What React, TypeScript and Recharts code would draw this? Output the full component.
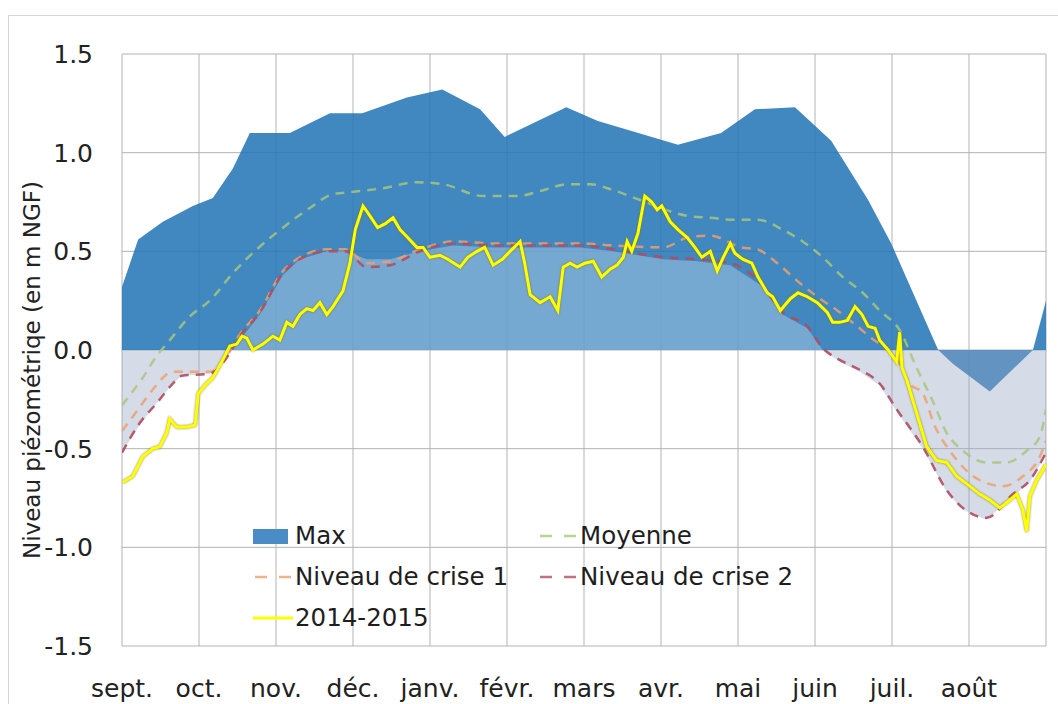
import React from 'react';
import { ComposedChart, Area, Line, XAxis, YAxis, CartesianGrid, Legend } from 'recharts';

const monthLabels = ['sept.', 'oct.', 'nov.', 'déc.', 'janv.', 'févr.', 'mars', 'avr.', 'mai', 'juin', 'juil.', 'août'];
const monthTicks = [0, 1, 2, 3, 4, 5, 6, 7, 8, 9, 10, 11, 12];
const yTicks = [-1.5, -1, -0.5, 0, 0.5, 1, 1.5];
const yAxisTitle = 'Niveau piézométriqe (en m NGF)';

// Max (area)
const maxMonths = [0, 0.21, 0.53, 0.92, 1.18, 1.44, 1.66, 2.18, 2.70, 3.12, 3.70, 4.16, 4.65, 4.97, 5.77, 6.18, 7.22, 7.78, 8.22, 8.74, 9.21, 9.69, 9.99, 10.60, 10.79, 11.27, 11.83, 12];
const maxValues = [0.32, 0.56, 0.65, 0.73, 0.77, 0.92, 1.10, 1.10, 1.20, 1.20, 1.28, 1.32, 1.22, 1.08, 1.23, 1.16, 1.04, 1.10, 1.22, 1.23, 1.06, 0.76, 0.54, 0.00, -0.07, -0.21, 0.00, 0.25];

// Min (light area, not in legend)
const minMonths = [0, 0.23, 0.45, 0.66, 0.78, 1.14, 1.34, 1.53, 1.79, 2.09, 2.31, 2.66, 2.90, 3.18, 3.48, 3.87, 4.30, 4.82, 5.26, 5.95, 6.38, 7.03, 7.47, 7.90, 8.29, 8.58, 8.90, 9.10, 9.32, 9.58, 9.84, 10.06, 10.40, 10.71, 10.92, 11.23, 11.57, 11.79, 12];
const minValues = [-0.52, -0.38, -0.27, -0.17, -0.13, -0.12, -0.05, 0.05, 0.18, 0.38, 0.46, 0.50, 0.50, 0.46, 0.46, 0.50, 0.53, 0.52, 0.52, 0.52, 0.50, 0.46, 0.45, 0.43, 0.33, 0.18, 0.11, 0.00, -0.06, -0.11, -0.18, -0.31, -0.50, -0.72, -0.81, -0.86, -0.74, -0.67, -0.53];

// Moyenne
const moyMonths = [0, 0.27, 0.45, 0.60, 0.88, 1.14, 1.44, 1.75, 2.09, 2.44, 2.74, 2.96, 3.39, 3.83, 4.17, 4.69, 5.13, 5.47, 5.78, 6.08, 6.38, 6.73, 7.34, 7.64, 7.94, 8.25, 8.58, 8.84, 9.10, 9.36, 9.62, 9.84, 10.10, 10.32, 10.53, 10.71, 10.92, 11.23, 11.49, 11.75, 11.92, 12];
const moyValues = [-0.28, -0.14, -0.03, 0.04, 0.17, 0.25, 0.39, 0.51, 0.62, 0.72, 0.79, 0.80, 0.82, 0.85, 0.84, 0.78, 0.78, 0.81, 0.84, 0.84, 0.81, 0.76, 0.68, 0.67, 0.66, 0.66, 0.61, 0.55, 0.47, 0.37, 0.29, 0.20, 0.10, -0.09, -0.26, -0.42, -0.51, -0.57, -0.57, -0.51, -0.44, -0.30];

// Niveau de crise 1
const crise1Months = [0, 0.23, 0.40, 0.66, 0.84, 1.14, 1.34, 1.53, 1.79, 2.09, 2.31, 2.66, 2.90, 3.18, 3.48, 3.87, 4.30, 4.82, 5.26, 5.95, 6.38, 7.03, 7.35, 7.64, 8.04, 8.25, 8.51, 8.77, 9.03, 9.29, 9.70, 10.10, 10.23, 10.40, 10.55, 10.75, 11.14, 11.44, 11.70, 11.92, 12];
const crise1Values = [-0.41, -0.29, -0.20, -0.11, -0.11, -0.11, -0.04, 0.08, 0.20, 0.40, 0.47, 0.51, 0.51, 0.44, 0.45, 0.51, 0.55, 0.54, 0.54, 0.54, 0.53, 0.52, 0.57, 0.58, 0.52, 0.51, 0.44, 0.35, 0.27, 0.20, 0.07, -0.07, -0.17, -0.22, -0.38, -0.51, -0.66, -0.69, -0.64, -0.54, -0.46];

// Niveau de crise 2
const crise2Months = [0, 0.23, 0.45, 0.66, 0.78, 1.14, 1.34, 1.53, 1.79, 2.09, 2.31, 2.66, 2.90, 3.18, 3.48, 3.87, 4.30, 4.82, 5.26, 5.95, 6.38, 7.03, 7.47, 7.90, 8.29, 8.58, 8.90, 9.10, 9.32, 9.58, 9.84, 10.06, 10.40, 10.71, 10.92, 11.23, 11.57, 11.79, 12];
const crise2Values = [-0.52, -0.37, -0.27, -0.17, -0.13, -0.12, -0.05, 0.07, 0.19, 0.39, 0.46, 0.50, 0.50, 0.42, 0.43, 0.50, 0.54, 0.53, 0.53, 0.53, 0.51, 0.47, 0.46, 0.44, 0.34, 0.19, 0.12, 0.01, -0.05, -0.10, -0.17, -0.30, -0.49, -0.71, -0.80, -0.85, -0.73, -0.66, -0.52];

// 2014-2015
const yearMonths = [0.01, 0.14, 0.27, 0.40, 0.49, 0.58, 0.62, 0.71, 0.84, 0.95, 0.99, 1.10, 1.18, 1.31, 1.40, 1.49, 1.56, 1.62, 1.70, 1.83, 1.96, 2.05, 2.14, 2.22, 2.31, 2.40, 2.48, 2.57, 2.66, 2.74, 2.87, 2.96, 3.03, 3.13, 3.22, 3.32, 3.42, 3.52, 3.61, 3.71, 3.83, 3.91, 4.00, 4.13, 4.23, 4.39, 4.49, 4.61, 4.71, 4.82, 4.94, 5.04, 5.17, 5.23, 5.30, 5.43, 5.56, 5.66, 5.73, 5.82, 5.91, 6.01, 6.12, 6.23, 6.34, 6.43, 6.51, 6.56, 6.62, 6.70, 6.79, 6.88, 6.95, 7.01, 7.12, 7.22, 7.34, 7.44, 7.53, 7.64, 7.73, 7.81, 7.90, 7.96, 8.06, 8.18, 8.26, 8.38, 8.45, 8.55, 8.68, 8.78, 8.90, 9.03, 9.16, 9.23, 9.32, 9.42, 9.52, 9.61, 9.69, 9.78, 9.84, 9.95, 10.06, 10.10, 10.13, 10.19, 10.32, 10.45, 10.58, 10.71, 10.84, 11.01, 11.14, 11.27, 11.40, 11.53, 11.62, 11.70, 11.75, 11.79, 11.88, 12];
const yearValues = [-0.67, -0.64, -0.54, -0.50, -0.49, -0.42, -0.35, -0.39, -0.39, -0.38, -0.22, -0.17, -0.14, -0.05, 0.02, 0.03, 0.07, 0.06, 0.00, 0.03, 0.07, 0.05, 0.14, 0.12, 0.18, 0.21, 0.20, 0.24, 0.18, 0.22, 0.30, 0.44, 0.61, 0.73, 0.68, 0.62, 0.64, 0.67, 0.61, 0.57, 0.52, 0.52, 0.47, 0.48, 0.46, 0.42, 0.47, 0.50, 0.52, 0.43, 0.46, 0.50, 0.55, 0.44, 0.28, 0.24, 0.27, 0.20, 0.42, 0.44, 0.42, 0.44, 0.45, 0.37, 0.41, 0.43, 0.47, 0.55, 0.50, 0.59, 0.78, 0.75, 0.71, 0.73, 0.65, 0.61, 0.57, 0.52, 0.47, 0.50, 0.40, 0.47, 0.54, 0.49, 0.46, 0.44, 0.37, 0.29, 0.27, 0.20, 0.26, 0.29, 0.27, 0.24, 0.19, 0.14, 0.14, 0.15, 0.22, 0.18, 0.12, 0.11, 0.05, 0.00, -0.06, 0.09, -0.09, -0.15, -0.32, -0.49, -0.56, -0.57, -0.64, -0.69, -0.73, -0.76, -0.80, -0.76, -0.73, -0.81, -0.92, -0.74, -0.66, -0.58];

const FONT = '"DejaVu Sans", sans-serif';
const MAX_COLOR = '#4086c0';
const MOY_COLOR = '#a7c77c';
const C1_COLOR = '#eda06c';
const C2_COLOR = '#b24c5e';
const YEAR_COLOR = '#ffff00';

const legendOrder = ['Max', 'Moyenne', 'Niveau de crise 1', 'Niveau de crise 2', '2014-2015'];
const legendStyle: Record<string, { kind: string; color: string }> = {
  'Max': { kind: 'area', color: '#4a8cc6' },
  'Moyenne': { kind: 'dash', color: MOY_COLOR },
  'Niveau de crise 1': { kind: 'dash', color: C1_COLOR },
  'Niveau de crise 2': { kind: 'dash', color: C2_COLOR },
  '2014-2015': { kind: 'solid', color: YEAR_COLOR },
};

const series: { key: string; months: number[]; values: number[] }[] = [
  { key: 'max', months: maxMonths, values: maxValues },
  { key: 'min', months: minMonths, values: minValues },
  { key: 'moy', months: moyMonths, values: moyValues },
  { key: 'c1', months: crise1Months, values: crise1Values },
  { key: 'c2', months: crise2Months, values: crise2Values },
  { key: 'year', months: yearMonths, values: yearValues },
];

function buildTable() {
  const map = new Map<number, Record<string, number>>();
  series.forEach((s) => {
    s.months.forEach((m, i) => {
      const row = map.get(m) ?? { m };
      row[s.key] = s.values[i];
      map.set(m, row);
    });
  });
  return Array.from(map.values()).sort((a, b) => a.m - b.m);
}

const data = buildTable();
const minTop = Math.max(...minValues);
const minBottom = Math.min(...minValues);
const minSplit = minTop / (minTop - minBottom);

function LegendIcon({ kind, color }: { kind: string; color: string }) {
  return (
    <svg width={42} height={20} style={{ flex: '0 0 auto' }}>
      {kind === 'area' && <rect x={0} y={3} width={35} height={15} fill={color} />}
      {kind === 'dash' && (
        <line x1={2} y1={10} x2={40} y2={10} stroke={color} strokeWidth={2.5} strokeDasharray="12 12" strokeOpacity={0.8} />
      )}
      {kind === 'solid' && <line x1={0} y1={10} x2={40} y2={10} stroke={color} strokeWidth={3} />}
    </svg>
  );
}

function renderLegend(props: any) {
  const payload: any[] = (props.payload || []).filter((p: any) => legendOrder.indexOf(p.value) >= 0);
  payload.sort((a, b) => legendOrder.indexOf(a.value) - legendOrder.indexOf(b.value));
  return (
    <div style={{ display: 'grid', gridTemplateColumns: '285px 285px', gridAutoRows: '41px', alignItems: 'center' }}>
      {payload.map((p) => {
        const st = legendStyle[p.value];
        return (
          <div key={p.value} style={{ display: 'flex', alignItems: 'center' }}>
            <LegendIcon kind={st.kind} color={st.color} />
            <span style={{ fontFamily: FONT, fontSize: 24.5, color: '#1e1e1e', whiteSpace: 'nowrap', lineHeight: '41px' }}>{p.value}</span>
          </div>
        );
      })}
    </div>
  );
}

function renderTitle(props: any) {
  const vb = props.viewBox || {};
  const cx = vb.x + 10;
  const cy = vb.y + vb.height / 2 + 20;
  return (
    <text
      x={cx}
      y={cy}
      transform={`rotate(-90, ${cx}, ${cy})`}
      textAnchor="middle"
      dominantBaseline="central"
      fontFamily={FONT}
      fontSize={23}
      fill="#222"
    >
      {yAxisTitle}
    </text>
  );
}

export default function App() {
  return (
    <div style={{ position: 'fixed', left: 0, top: 0, width: 1058, height: 704, overflow: 'hidden', background: '#fff' }}>
      <style>{`.yl .recharts-curve { filter: drop-shadow(0 0 1px rgba(120,120,0,0.85)); }`}</style>
      <div style={{ position: 'absolute', left: 8, top: 15, width: 1200, height: 900, border: '1px solid #d6d6d6' }} />
      <div style={{ position: 'absolute', left: 8, top: 8 }}>
        <ComposedChart width={1050} height={696} data={data} margin={{ top: 46, right: 12, bottom: 8, left: 14 }}>
          <defs>
            <linearGradient id="minFill" x1="0" y1="0" x2="0" y2="1">
              <stop offset={minSplit} stopColor="#ffffff" stopOpacity={0.28} />
              <stop offset={minSplit} stopColor="rgb(150,165,195)" stopOpacity={0.4} />
            </linearGradient>
          </defs>
          <CartesianGrid stroke="#b3b3b3" strokeWidth={1} />
          <XAxis
            dataKey="m"
            type="number"
            domain={[0, 12]}
            ticks={monthTicks}
            interval={0}
            tickFormatter={(v: number) => monthLabels[v] ?? ''}
            axisLine={false}
            tickLine={false}
            tickSize={0}
            tickMargin={33}
            height={50}
            tick={{ fontFamily: FONT, fontSize: 25, fill: '#222' }}
            allowDataOverflow
          />
          <YAxis
            type="number"
            domain={[-1.5, 1.5]}
            ticks={yTicks}
            interval={0}
            tickFormatter={(v: number) => v.toFixed(1)}
            axisLine={false}
            tickLine={false}
            tickSize={0}
            tickMargin={29}
            width={100}
            tick={{ fontFamily: FONT, fontSize: 25, fill: '#222' }}
            allowDataOverflow
            label={{ content: renderTitle }}
          />
          <Area
            name="Max"
            dataKey="max"
            type="linear"
            baseValue={0}
            fill="rgb(32,114,181)"
            fillOpacity={0.85}
            stroke="none"
            connectNulls
            isAnimationActive={false}
            dot={false}
            activeDot={false}
          />
          <Area
            name="Min"
            dataKey="min"
            type="linear"
            baseValue={0}
            fill="url(#minFill)"
            fillOpacity={1}
            stroke="none"
            connectNulls
            legendType="none"
            isAnimationActive={false}
            dot={false}
            activeDot={false}
          />
          <Line name="Moyenne" dataKey="moy" type="monotone" stroke={MOY_COLOR} strokeOpacity={0.85} strokeWidth={2.5} strokeDasharray="9 7" dot={false} activeDot={false} connectNulls isAnimationActive={false} />
          <Line name="Niveau de crise 1" dataKey="c1" type="monotone" stroke={C1_COLOR} strokeOpacity={0.85} strokeWidth={2.5} strokeDasharray="9 7" dot={false} activeDot={false} connectNulls isAnimationActive={false} />
          <Line name="Niveau de crise 2" dataKey="c2" type="monotone" stroke={C2_COLOR} strokeOpacity={0.9} strokeWidth={2.5} strokeDasharray="9 7" dot={false} activeDot={false} connectNulls isAnimationActive={false} />
          <Line name="2014-2015" className="yl" dataKey="year" type="linear" stroke={YEAR_COLOR} strokeWidth={3} dot={false} activeDot={false} connectNulls isAnimationActive={false} />
          <Legend
            verticalAlign="middle"
            align="center"
            layout="horizontal"
            wrapperStyle={{ position: 'absolute', left: 245, top: 507, width: 620, height: 125 }}
            content={renderLegend}
          />
        </ComposedChart>
      </div>
    </div>
  );
}
